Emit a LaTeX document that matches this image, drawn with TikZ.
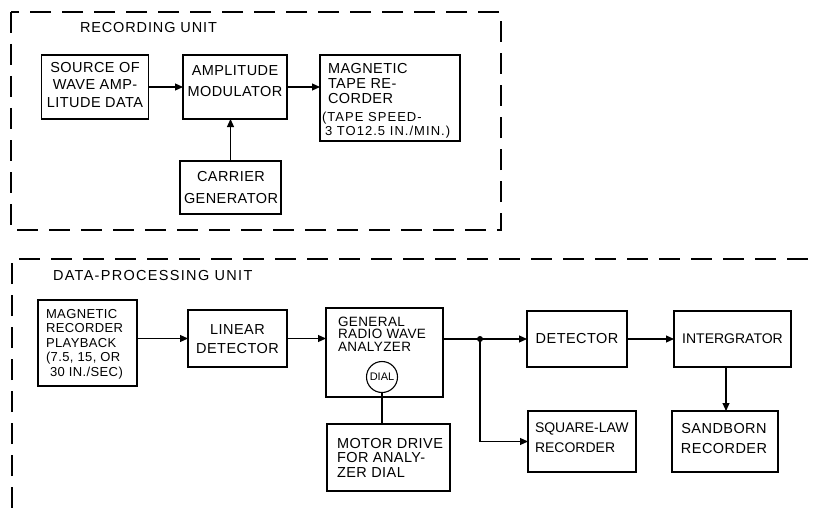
\documentclass[tikz,border=0pt]{standalone}
\usepackage{fontspec}
\setmainfont{Liberation Sans}[LetterSpace=3]
\newfontfamily\ttlA{Liberation Sans}[LetterSpace=6]
\newfontfamily\ttlB{Liberation Sans}[LetterSpace=9]
\newfontfamily\tapefont{Liberation Sans}[LetterSpace=8]
\newfontfamily\plainfont{Liberation Sans}
\usetikzlibrary{arrows.meta}

\begin{document}
\begin{tikzpicture}[x=1pt,y=-1pt,
  box/.style={draw, line width=1.1pt, inner sep=0pt, outer sep=0pt},
  txt/.style={inner sep=0pt, outer sep=0pt},
  fs/.style 2 args={font=\fontsize{#1}{#2}\selectfont},
  arr/.style={line width=1.1pt, -{Triangle[length=8pt,width=7pt]}},
  wire/.style={line width=1.1pt},
  frame/.style={line width=1.1pt, dash pattern=on 21pt off 11pt},
]
\useasboundingbox (0,0) rectangle (813,508);

% ---------- frames ----------
\draw[frame] (11,12) rectangle (501,230);
\draw[frame] (12,508) -- (12,259) -- (813,259);

% ---------- recording unit ----------
\node[txt, anchor=west, font=\ttlA\fontsize{14.5}{16}\selectfont] (rut) at (80,28) {RECORDING UNIT};

\node[box, minimum width=107pt, minimum height=64pt] (src) at (95,87) {};
\node[box, minimum width=104pt, minimum height=64pt] (am) at (235,87) {};
\node[box, minimum width=140pt, minimum height=86pt] (tape) at (390,98) {};
\node[box, minimum width=101pt, minimum height=53pt] (car) at (230.5,187.5) {};

\node[txt, align=center, anchor=north, fs={14.5}{17.5}] (srcT) at (95,62) {SOURCE OF\\WAVE AMP-\\LITUDE DATA};
\node[txt, align=center, anchor=north, fs={14.5}{21}] (amT) at (235,66) {AMPLITUDE\\MODULATOR};
\node[txt, align=left, anchor=north west, fs={14.5}{15}] (tapeT) at (328,63) {MAGNETIC\\TAPE RE-\\CORDER};
\node[txt, align=left, anchor=north west, font=\tapefont\fontsize{13}{12}\selectfont] (tapeS) at (322,112.5) {(TAPE SPEED-\\\hspace*{3pt}3 TO12.5 IN./MIN.)};
\node[txt, align=center, fs={14.5}{22}] (carT) at (231,188) {CARRIER\\GENERATOR};

\draw[arr] (src.east) -- (am.west);
\draw[arr] (am.east) -- (am.east-|tape.west);
\draw[arr] (car.north) -- (car.north|-am.south);

% ---------- data-processing unit ----------
\node[txt, anchor=west, font=\ttlB\fontsize{14.5}{16}\selectfont] (dput) at (53,276) {DATA-PROCESSING UNIT};

\node[box, minimum width=99pt, minimum height=86pt] (pb) at (87.5,343) {};
\node[box, minimum width=99pt, minimum height=57pt] (lin) at (237.5,338.5) {};
\node[box, minimum width=117pt, minimum height=89pt] (grwa) at (384.5,352.5) {};
\node[circle, draw, line width=1.1pt, minimum size=31pt, inner sep=0pt,
      font=\plainfont\fontsize{11}{10}\selectfont] (dial) at (382,377) {DIAL};
\node[box, minimum width=123pt, minimum height=67pt] (motor) at (388.5,457.5) {};
\node[circle, fill, inner sep=0pt, minimum size=6pt] (dot) at (480,339) {};
\node[box, minimum width=100pt, minimum height=56pt] (det) at (577,339) {};
\node[box, minimum width=117pt, minimum height=56pt] (int) at (732.5,339) {};
\node[box, minimum width=108pt, minimum height=61pt] (sq) at (582,441.5) {};
\node[box, minimum width=106pt, minimum height=61pt] (sand) at (725,441.5) {};

\node[txt, align=left, anchor=north west, fs={13}{14.5}] (pbT) at (46,309)
  {MAGNETIC\\RECORDER\\PLAYBACK\\(7.5, 15, OR\\\hspace*{4pt}30 IN./SEC)};
\node[txt, align=center, fs={14.5}{19}] (linT) at (237.5,339) {LINEAR\\DETECTOR};
\node[txt, align=left, anchor=north west, fs={13.5}{12.5}] (grwaT) at (338,317)
  {GENERAL\\RADIO WAVE\\ANALYZER};
\node[txt, align=left, anchor=north west, fs={14.5}{14.5}] (motorT) at (337,438)
  {MOTOR DRIVE\\FOR ANALY-\\ZER DIAL};
\node[txt, fs={14.5}{16}] (detT) at (577,339) {DETECTOR};
\node[txt, font=\plainfont\fontsize{14}{16}\selectfont] (intT) at (732.5,339) {INTERGRATOR};
\node[txt, align=left, anchor=north west, font=\plainfont\fontsize{14}{20}\selectfont] (sqT) at (535,423) {SQUARE-LAW\\RECORDER};
\node[txt, align=center, anchor=north, fs={14.5}{20}] (sandT) at (724,423) {SANDBORN\\RECORDER};

\coordinate (cX) at (726,0);
\draw[arr] (pb.east|-lin.west) -- (lin.west);
\draw[arr] (lin.east) -- (lin.east-|grwa.west);
\draw[wire] (dot.center-|grwa.east) -- (dot.center);
\draw[arr] (dot.center) -- (det.west);
\draw[arr] (dot.center) |- (sq.west);
\draw[arr] (det.east) -- (int.west);
\draw[arr] (int.south-|cX) -- (sand.north-|cX);
\draw[wire] (dial.south) -- (dial.south|-motor.north);
\end{tikzpicture}
\end{document}
